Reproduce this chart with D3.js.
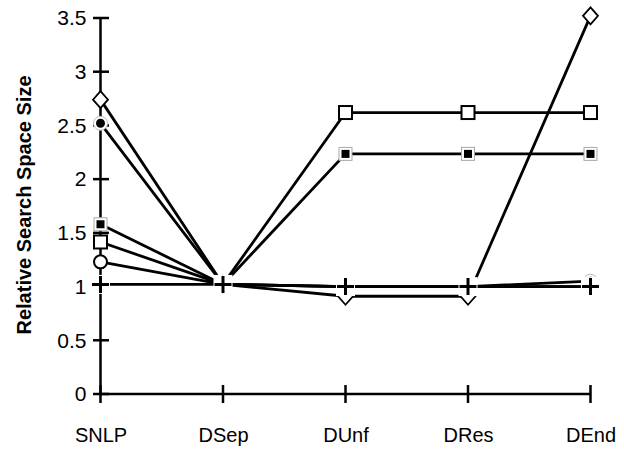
<!DOCTYPE html>
<html><head><meta charset="utf-8">
<script src="https://cdn.jsdelivr.net/npm/d3@7"></script>
<style>body{margin:0;background:#fff}svg{display:block}</style>
</head><body>
<svg id="c" width="624" height="453"></svg>
<script>
const categories = ["SNLP", "DSep", "DUnf", "DRes", "DEnd"];
const yTicks = [0, 0.5, 1, 1.5, 2, 2.5, 3, 3.5];
const yTickLabels = ["0", "0.5", "1", "1.5", "2", "2.5", "3", "3.5"];
const diamondSeries = [2.74, 1.02, 0.91, 0.91, 3.52];
const filledCircleSeries = [2.52, 1.02, 1.0, 1.0, 1.05];
const filledSquareSeries = [1.58, 1.02, 2.235, 2.235, 2.235];
const hollowSquareSeries = [1.415, 1.02, 2.62, 2.62, 2.62];
const hollowCircleSeries = [1.23, 1.02, 1.0, 1.0, 1.0];
const plusSeries = [1.02, 1.02, 1.0, 1.0, 1.0];
const yTitle = "Relative Search Space Size";

const series = [
  {name: "diamond", values: diamondSeries},
  {name: "filledCircle", values: filledCircleSeries},
  {name: "filledSquare", values: filledSquareSeries},
  {name: "hollowSquare", values: hollowSquareSeries},
  {name: "hollowCircle", values: hollowCircleSeries},
  {name: "plus", values: plusSeries}
];

const svg = d3.select("#c");
const x = d3.scalePoint().domain(categories).range([100.5, 590.5]);
const y = d3.scaleLinear().domain([0, 3.5]).range([394, 18]);
const font = "'Liberation Sans', Arial, sans-serif";

// axes
const yAxis = svg.append("g").attr("transform", "translate(100.5,0)")
  .call(d3.axisLeft(y).tickValues(yTicks).tickFormat((d, i) => yTickLabels[i]).tickSize(0).tickPadding(14));
yAxis.select(".domain").remove();
yAxis.selectAll("text").attr("font-family", font).attr("font-size", 21).attr("fill", "#000");
svg.append("line").attr("x1", 100.5).attr("x2", 100.5).attr("y1", y(3.5)).attr("y2", y(0))
  .attr("stroke", "#000").attr("stroke-width", 2.5);
svg.selectAll(".ytk").data(yTicks).join("line").attr("class", "ytk")
  .attr("x1", 93).attr("x2", 109).attr("y1", d => y(d)).attr("y2", d => y(d))
  .attr("stroke", "#000").attr("stroke-width", 2.5);

svg.append("line").attr("x1", 100.5).attr("x2", x("DEnd")).attr("y1", y(0)).attr("y2", y(0))
  .attr("stroke", "#000").attr("stroke-width", 2.5);
const xAxis = svg.append("g").attr("transform", `translate(0,${y(0)})`)
  .call(d3.axisBottom(x).tickSize(0).tickPadding(34));
xAxis.select(".domain").remove();
xAxis.selectAll("text").attr("font-family", font).attr("font-size", 20).attr("fill", "#000");
svg.selectAll(".xtk").data(categories).join("line").attr("class", "xtk")
  .attr("x1", d => x(d)).attr("x2", d => x(d)).attr("y1", y(0) - 9).attr("y2", y(0) + 9)
  .attr("stroke", "#000").attr("stroke-width", 2.5);

svg.append("text").attr("transform", "translate(31,205) rotate(-90)")
  .attr("text-anchor", "middle").attr("font-family", font).attr("font-size", 20)
  .attr("font-weight", "bold").text(yTitle);

// lines
const line = d3.line().x((d, i) => x(categories[i])).y(d => y(d));
svg.selectAll(".ser").data(series).join("path").attr("class", "ser")
  .attr("d", s => line(s.values)).attr("fill", "none").attr("stroke", "#000")
  .attr("stroke-width", 2.8).attr("stroke-linejoin", "round");

// markers
function drawMarker(g, type, cx, cy) {
  if (type === "diamond") {
    g.append("path").attr("d", `M${cx},${cy-8.5}L${cx+7.5},${cy}L${cx},${cy+8.5}L${cx-7.5},${cy}Z`)
      .attr("fill", "#fff").attr("stroke", "#000").attr("stroke-width", 1.8);
  } else if (type === "hollowSquare") {
    g.append("rect").attr("x", cx - 6.5).attr("y", cy - 6.5).attr("width", 13).attr("height", 13)
      .attr("fill", "#fff").attr("stroke", "#000").attr("stroke-width", 2);
  } else if (type === "filledSquare") {
    g.append("rect").attr("x", cx - 6.5).attr("y", cy - 6.5).attr("width", 13).attr("height", 13)
      .attr("fill", "#fff").attr("stroke", "#aaa").attr("stroke-width", 1);
    g.append("rect").attr("x", cx - 4).attr("y", cy - 4).attr("width", 8).attr("height", 8)
      .attr("fill", "#000");
  } else if (type === "hollowCircle") {
    g.append("circle").attr("cx", cx).attr("cy", cy).attr("r", 6.5)
      .attr("fill", "#fff").attr("stroke", "#000").attr("stroke-width", 2);
  } else if (type === "filledCircle") {
    g.append("circle").attr("cx", cx).attr("cy", cy).attr("r", 7)
      .attr("fill", "#fff").attr("stroke", "#bbb").attr("stroke-width", 1);
    g.append("circle").attr("cx", cx).attr("cy", cy).attr("r", 4.5).attr("fill", "#000");
  } else if (type === "plus") {
    g.append("rect").attr("x", cx - 9.5).attr("y", cy - 9.5).attr("width", 19).attr("height", 19)
      .attr("fill", "#fff");
    g.append("path").attr("d", `M${cx-8.5},${cy}H${cx+8.5}M${cx},${cy-8.5}V${cy+8.5}`)
      .attr("stroke", "#000").attr("stroke-width", 3);
  }
}
const mg = svg.append("g");
series.forEach(s => {
  s.values.forEach((v, i) => drawMarker(mg, s.name, x(categories[i]), y(v)));
});
</script>
</body></html>
